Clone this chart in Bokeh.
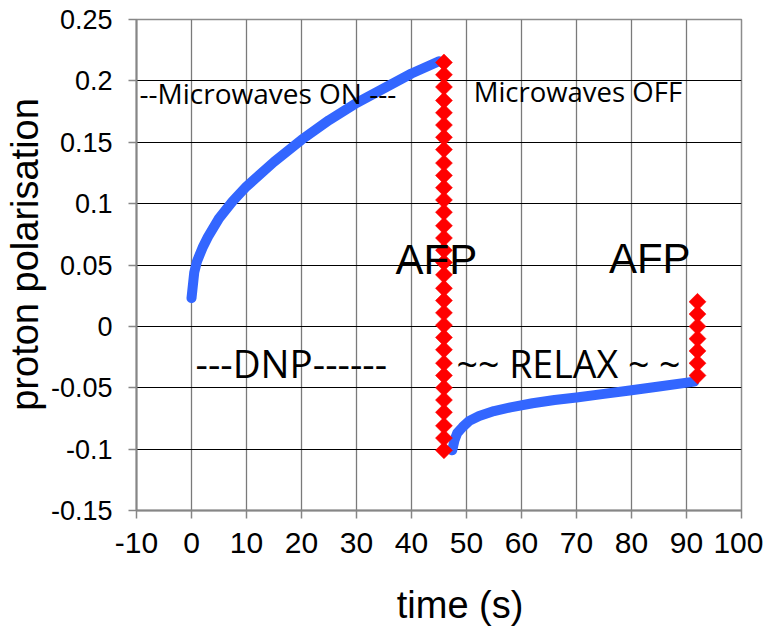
import numpy as np
from bokeh.plotting import figure
from bokeh.models import Range1d, FixedTicker, Label
from bokeh.embed import file_html
from bokeh.resources import INLINE

# ---- data ----
dnp_time = [0, 0.5, 1, 2, 3, 5, 7.5, 10, 15, 20, 25, 30, 35, 40, 45]
dnp_pol = [0.023, 0.044, 0.053, 0.064, 0.073, 0.088, 0.102, 0.114, 0.134,
           0.152, 0.168, 0.182, 0.194, 0.206, 0.216]

relax_time = [47.4, 47.8, 48.3, 49.3, 50.5, 52.3, 55, 58, 62, 66, 70, 75, 80, 85, 91.4]
relax_pol = [-0.101, -0.093, -0.087, -0.082, -0.077, -0.073, -0.069, -0.066,
             -0.0626, -0.060, -0.058, -0.055, -0.052, -0.049, -0.045]

afp1_time = 45.9
afp1_pol = [0.215, 0.205, 0.195, 0.184, 0.174, 0.164, 0.154, 0.144,
            0.133, 0.123, 0.113, 0.103, 0.093, 0.082, 0.072, 0.062,
            0.052, 0.042, 0.031, 0.021, 0.011, 0.001, -0.009, -0.019,
            -0.030, -0.040, -0.050, -0.060, -0.070, -0.081, -0.091, -0.101]

afp2_time = 92.0
afp2_pol = [0.020, 0.010, 0.000, -0.010, -0.020, -0.030, -0.040]

x_ticks = [-10, 0, 10, 20, 30, 40, 50, 60, 70, 80, 90, 100]
y_ticks = [-0.15, -0.1, -0.05, 0, 0.05, 0.1, 0.15, 0.2, 0.25]
y_tick_labels = ["-0.15", "-0.1", "-0.05", "0", "0.05", "0.1", "0.15", "0.2", "0.25"]

annotations = [
    ("--Microwaves ON ---", -9.45, 0.1905, "Open Sans", "28px"),
    ("Microwaves OFF", 51.3, 0.1915, "Open Sans", "27.5px"),
    ("AFP", 37.1, 0.0545, "Liberation Sans", "42px"),
    ("AFP", 75.9, 0.0555, "Liberation Sans", "42px"),
    ("---DNP------", 0.73, -0.0300, "Open Sans", "38.5px"),
    ("~~ RELAX ~ ~", 48.2, -0.0300, "Open Sans", "37.5px"),
]

# ---- figure ----
p = figure(frame_width=605, frame_height=491,
           x_range=Range1d(-10, 100), y_range=Range1d(-0.15, 0.25),
           output_backend="svg", toolbar_location=None,
           min_border_left=126, min_border_right=22,
           min_border_top=19, min_border_bottom=109)
p.background_fill_color = "white"
p.border_fill_color = "white"
p.outline_line_color = "#8c8c8c"
p.outline_line_width = 1.5

p.xaxis.ticker = FixedTicker(ticks=x_ticks)
p.yaxis.ticker = FixedTicker(ticks=y_ticks)
p.yaxis.major_label_overrides = {t: l for t, l in zip(y_ticks, y_tick_labels)}
p.xaxis.major_label_overrides = {t: str(t) for t in x_ticks}

for ax in (p.xaxis[0], p.yaxis[0]):
    ax.axis_line_color = "#868686"
    ax.axis_line_width = 2
    ax.major_tick_line_color = "#868686"
    ax.major_tick_line_width = 1.5
    ax.major_tick_out = 8
    ax.major_tick_in = 0
    ax.minor_tick_line_color = None
    ax.major_label_text_font = "Liberation Sans"
    ax.major_label_text_color = "black"
    ax.axis_label_text_font = "Liberation Sans"
    ax.axis_label_text_font_style = "normal"
    ax.axis_label_text_font_size = "38px"
    ax.axis_label_text_color = "black"

p.xaxis.major_label_text_font_size = "30px"
p.yaxis.major_label_text_font_size = "27px"
p.xaxis.major_label_standoff = 14
p.yaxis.major_label_standoff = 16
# leading no-break spaces nudge the centred titles to where the reference has them
p.xaxis.axis_label = "\u00a0\u00a0\u00a0\u00a0time (s)"
p.yaxis.axis_label = "\u00a0\u00a0proton polarisation"
p.xaxis.axis_label_standoff = 28
p.yaxis.axis_label_standoff = 2

p.xgrid.grid_line_color = "#7a7a7a"
p.xgrid.grid_line_width = 1.3
p.ygrid.grid_line_color = "black"
p.ygrid.grid_line_width = 1

# ---- data marks ----
p.line(dnp_time, dnp_pol, line_color="#3366FF", line_width=10, line_cap="round", line_join="round")
p.line(relax_time, relax_pol, line_color="#3366FF", line_width=10, line_cap="round", line_join="round")

p.scatter([afp1_time] * len(afp1_pol), afp1_pol, marker="square", angle=np.pi / 4,
          size=12, fill_color="#FF0000", line_color="#FF0000", line_width=0.5)
p.scatter([afp2_time] * len(afp2_pol), afp2_pol, marker="square", angle=np.pi / 4,
          size=12, fill_color="#FF0000", line_color="#FF0000", line_width=0.5)

for txt, tx, ty, font, size in annotations:
    p.add_layout(Label(x=tx, y=ty, text=txt, text_font=font, text_font_size=size,
                       text_align="left", text_baseline="alphabetic", text_color="black"))

open("out.html", "w").write(file_html(p, INLINE))
